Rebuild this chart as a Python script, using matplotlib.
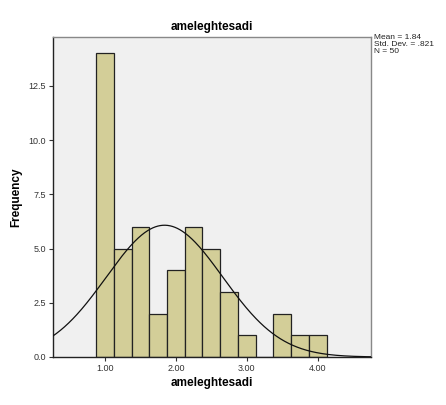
import numpy as np
import matplotlib
matplotlib.use("Agg")
import matplotlib.pyplot as plt

plt.rcParams['font.family'] = ['Liberation Sans', 'DejaVu Sans']

bin_centers = [1.00, 1.25, 1.50, 1.75, 2.00, 2.25, 2.50, 2.75, 3.00, 3.25, 3.50, 3.75, 4.00]
counts = [14, 5, 6, 2, 4, 6, 5, 3, 1, 0, 2, 1, 1]
bin_width = 0.25
mean_val = 1.84
std_val = 0.821
n_val = 50
x_ticks = [1.0, 2.0, 3.0, 4.0]
x_tick_labels = ["1.00", "2.00", "3.00", "4.00"]
y_ticks = [0.0, 2.5, 5.0, 7.5, 10.0, 12.5]
y_tick_labels = ["0.0", "2.5", "5.0", "7.5", "10.0", "12.5"]
title = "ameleghtesadi"
xlabel = "ameleghtesadi"
ylabel = "Frequency"

W, H = 446, 405
fig = plt.figure(figsize=(W / 100, H / 100), dpi=100)
fig.patch.set_facecolor("white")
L, R, T, B = 53, 371, 37, 357
ax = fig.add_axes([L / W, (H - B) / H, (R - L) / W, (B - T) / H])
ax.set_facecolor("#F0F0F0")

ax.bar(bin_centers, counts, width=bin_width, color="#D3CE98",
       edgecolor="#222222", linewidth=0.9, zorder=2)

xs = np.linspace(0.2, 4.8, 400)
ys = n_val * bin_width / (std_val * np.sqrt(2 * np.pi)) * np.exp(-0.5 * ((xs - mean_val) / std_val) ** 2)
ax.plot(xs, ys, color="#111111", linewidth=0.9, zorder=3)

ax.set_xlim(0.268, 4.75)
ax.set_ylim(0, 14.75)
ax.set_xticks(x_ticks)
ax.set_xticklabels(x_tick_labels)
ax.set_yticks(y_ticks)
ax.set_yticklabels(y_tick_labels)
ax.tick_params(axis="both", labelsize=6.5, colors="#333333", length=3, width=0.8, pad=2)
ax.tick_params(axis="both", labelcolor="#333333")

for s in ["top", "right"]:
    ax.spines[s].set_color("#888888")
    ax.spines[s].set_linewidth(1.0)
for s in ["left", "bottom"]:
    ax.spines[s].set_color("#222222")
    ax.spines[s].set_linewidth(1.0)

fig.text((L + R) / 2 / W, 1 - 27 / H, title, ha="center", va="center",
         fontsize=8.5, fontweight="bold")
fig.text((L + R) / 2 / W, 1 - 383 / H, xlabel, ha="center", va="center",
         fontsize=8.5, fontweight="bold")
fig.text(16 / W, 1 - 197 / H, ylabel, ha="center", va="center",
         fontsize=8.5, fontweight="bold", rotation=90)

stats = f"Mean = {mean_val:.2f}\nStd. Dev. = {str(std_val)[1:]}\nN = {n_val}"
fig.text(374 / W, 1 - 34 / H, stats, ha="left", va="top", fontsize=6,
         linespacing=1.0, color="#222222")

fig.savefig("out.png", dpi=100)
